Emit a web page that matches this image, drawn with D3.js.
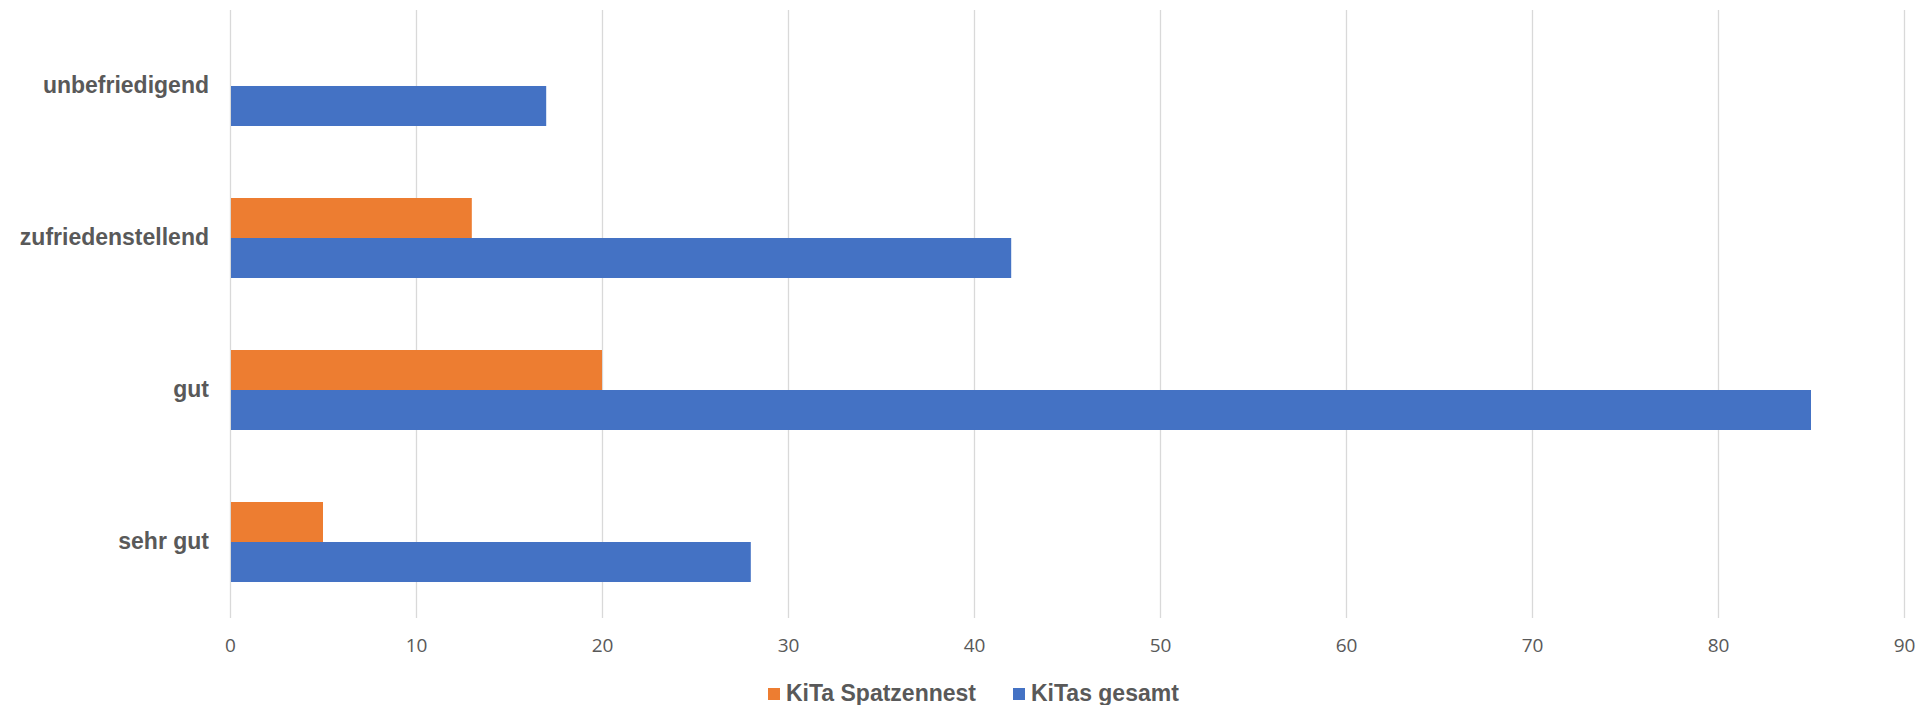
<!DOCTYPE html>
<html>
<head>
<meta charset="utf-8">
<script src="https://cdn.jsdelivr.net/npm/d3@7"></script>
<style>
  body { margin: 0; background: #fff; }
  svg { display: block; }
</style>
</head>
<body>
<svg id="chart"></svg>
<script>
// data
const categories = ['unbefriedigend', 'zufriedenstellend', 'gut', 'sehr gut']
const seriesNames = ['KiTa Spatzennest', 'KiTas gesamt']
const spatzennest = [0, 13, 20, 5]
const gesamt = [17, 42, 85, 28]
const xTicks = [0, 10, 20, 30, 40, 50, 60, 70, 80, 90]

const colors = ['#ED7D31', '#4472C4']

const width = 1930,
  height = 705,
  margin = { top: 10, right: 26, bottom: 87, left: 230 }

const svg = d3.select('#chart')
    .attr('width', width)
    .attr('height', height)

const x = d3.scaleLinear()
  .domain([0, 90])
  .range([margin.left, width - margin.right])

const y = d3.scaleBand()
  .domain(categories)
  .range([margin.top, height - margin.bottom])
  .paddingInner(0.4737)
  .paddingOuter(0.2368)

const ySub = d3.scaleBand()
  .domain(seriesNames)
  .range([0, y.bandwidth()])

// gridlines
svg.append('g')
    .attr('class', 'grid')
  .selectAll('line')
  .data(xTicks)
  .join('line')
    .attr('x1', d => Math.round(x(d)) + 0.5)
    .attr('x2', d => Math.round(x(d)) + 0.5)
    .attr('y1', margin.top)
    .attr('y2', height - margin.bottom)
    .style('stroke', '#D9D9D9')
    .style('stroke-width', 1.3)

// bars
const rows = categories.map((c, i) => ({ cat: c, vals: [spatzennest[i], gesamt[i]] }))

const groups = svg.append('g')
  .selectAll('g.group')
  .data(rows)
  .join('g')
    .attr('class', 'group')
    .attr('transform', d => `translate(0,${ y(d.cat) })`)

groups.selectAll('rect')
  .data(d => d.vals.map((v, j) => ({ name: seriesNames[j], value: v, j })))
  .join('rect')
    .attr('x', x(0) + 1)
    .attr('y', d => ySub(d.name))
    .attr('width', d => Math.max(0, x(d.value) - x(0) - 1))
    .attr('height', ySub.bandwidth())
    .style('fill', d => colors[d.j])

// x axis labels
const xAxis = svg.append('g')
  .attr('transform', `translate(0,${ height - margin.bottom })`)
  .call(d3.axisBottom(x).tickValues(xTicks).tickSize(0).tickPadding(21))

xAxis.select('.domain').remove()
xAxis.selectAll('text')
    .style('font-family', '"Open Sans", sans-serif')
    .style('font-size', '19px')
    .style('fill', '#595959')

// y axis labels
const yAxis = svg.append('g')
  .attr('transform', `translate(${ margin.left },0)`)
  .call(d3.axisLeft(y).tickSize(0).tickPadding(21))

yAxis.select('.domain').remove()
yAxis.selectAll('text')
    .style('font-family', '"Liberation Sans", Arial, sans-serif')
    .style('font-weight', 'bold')
    .style('font-size', '23px')
    .style('fill', '#595959')

// legend
const legend = svg.append('g')
  .attr('class', 'legend')
  .attr('transform', `translate(768,693)`)

const legendOffsets = [0, 245]

const legendItems = legend.selectAll('g')
  .data(seriesNames)
  .join('g')
    .attr('transform', (d, i) => `translate(${ legendOffsets[i] },0)`)

legendItems.append('rect')
    .attr('x', 0)
    .attr('y', -5)
    .attr('width', 12)
    .attr('height', 12)
    .style('fill', (d, i) => colors[i])

legendItems.append('text')
    .attr('x', 18)
    .attr('y', 0)
    .attr('dy', '0.35em')
    .style('font-family', '"Liberation Sans", Arial, sans-serif')
    .style('font-weight', 'bold')
    .style('font-size', '23px')
    .style('fill', '#595959')
    .text(d => d)
</script>
</body>
</html>
